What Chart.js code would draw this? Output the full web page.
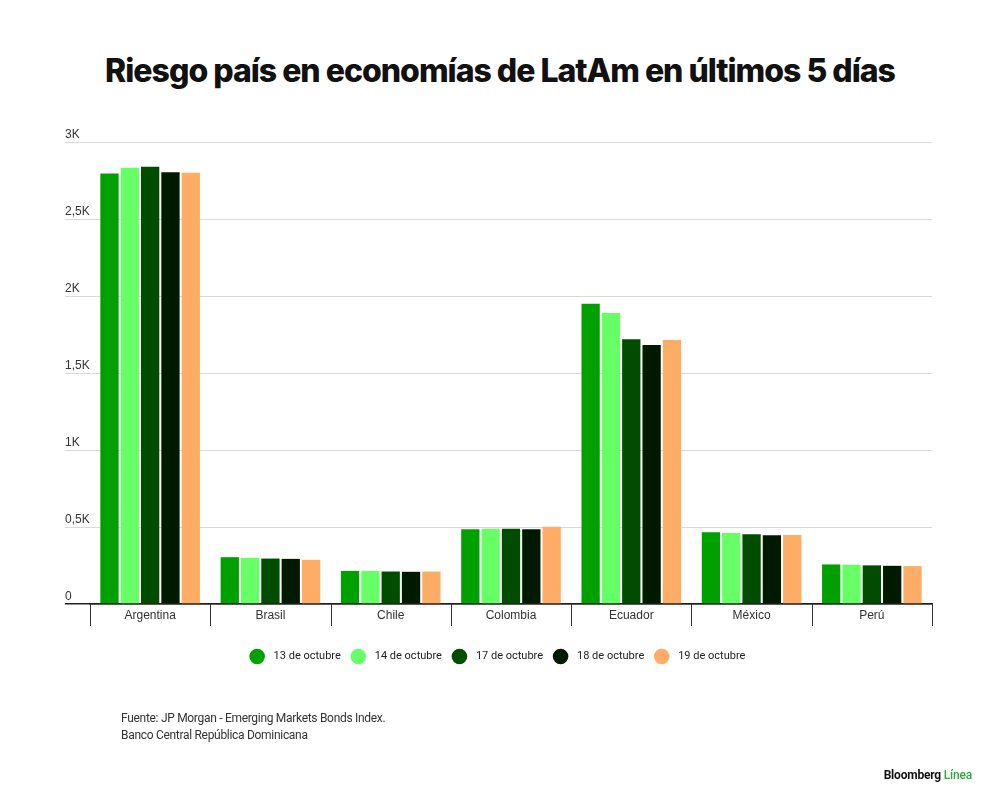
<!DOCTYPE html>
<html>
<head>
<meta charset="utf-8">
<script src="https://cdn.jsdelivr.net/npm/chart.js@4"></script>
<style>
  html, body { margin: 0; padding: 0; background: #fff; }
  body { width: 1000px; height: 804px; position: relative; overflow: hidden; font-family: Roboto, "Liberation Sans", sans-serif; }
  #title { position: absolute; left: 0; top: 51px; width: 1000px; text-align: center; font-family: Inter, Roboto, sans-serif; font-weight: 800; font-size: 32px; letter-spacing: -1px; color: #111; white-space: nowrap; }
  #wrap { position: absolute; left: 0; top: 0; width: 1000px; height: 804px; }
  #source { position: absolute; left: 121px; top: 710px; font-size: 12px; line-height: 17px; color: #333; letter-spacing: -0.3px; }
  #logo { position: absolute; right: 28px; top: 768px; font-size: 12px; font-weight: 700; color: #111; letter-spacing: -0.2px; }
  #logo span { color: #2eaa3c; font-weight: 500; }
</style>
</head>
<body>
<div id="title">Riesgo país en economías de LatAm en últimos 5 días</div>
<div id="wrap"><canvas id="c"></canvas></div>
<div id="source">Fuente: JP Morgan - Emerging Markets Bonds Index.<br>Banco Central República Dominicana</div>
<div id="logo">Bloomberg <span>Línea</span></div>
<script>
const countries = ["Argentina", "Brasil", "Chile", "Colombia", "Ecuador", "México", "Perú"];
const seriesLabels = ["13 de octubre", "14 de octubre", "17 de octubre", "18 de octubre", "19 de octubre"];
const oct13 = [2796, 304, 215, 485, 1950, 466, 257];
const oct14 = [2833, 300, 215, 489, 1889, 461, 255];
const oct17 = [2840, 295, 211, 489, 1719, 453, 251];
const oct18 = [2803, 293, 209, 486, 1682, 446, 248];
const oct19 = [2800, 287, 211, 501, 1715, 448, 246];
const yTickValues = [0, 500, 1000, 1500, 2000, 2500, 3000];
const yTickLabels = ["0", "0,5K", "1K", "1,5K", "2K", "2,5K", "3K"];

const seriesData = [oct13, oct14, oct17, oct18, oct19];
const seriesColors = ["#00a000", "#66ff66", "#004d00", "#001a00", "#ffad66"];

// category divider marks below the baseline, positioned from the x scale
const dividerPlugin = {
  id: "dividers",
  afterDraw(chart) {
    const xs = chart.scales.x;
    const ctx = chart.ctx;
    const top = chart.chartArea.bottom;
    ctx.save();
    ctx.strokeStyle = "#333";
    ctx.lineWidth = 1;
    for (let i = 0; i <= countries.length; i++) {
      const x = Math.round(xs.getPixelForValue(i - 0.5)) + 0.5;
      ctx.beginPath();
      ctx.moveTo(x, top);
      ctx.lineTo(x, top + 22);
      ctx.stroke();
    }
    ctx.restore();
  }
};

new Chart(document.getElementById("c"), {
  type: "bar",
  data: {
    labels: countries,
    datasets: seriesData.map((d, i) => ({
      label: seriesLabels[i],
      data: d,
      backgroundColor: seriesColors[i],
      borderWidth: 0,
      barPercentage: 0.9,
      categoryPercentage: 0.845
    }))
  },
  plugins: [dividerPlugin],
  options: {
    responsive: true,
    maintainAspectRatio: false,
    animation: false,
    layout: { padding: { left: 65, right: 68, top: 142, bottom: 132 } },
    plugins: {
      title: { display: false },
      tooltip: { enabled: false },
      legend: {
        position: "bottom",
        labels: {
          usePointStyle: true,
          pointStyle: "circle",
          boxHeight: 11,
          padding: 12,
          color: "#222",
          font: { family: "Roboto", size: 11 },
          generateLabels(chart) {
            const items = Chart.defaults.plugins.legend.labels.generateLabels(chart);
            items.forEach(it => { it.text = "  " + it.text; it.lineWidth = 0; });
            return items;
          }
        }
      }
    },
    scales: {
      x: {
        offset: true,
        afterFit(scale) { scale.height = 35; },
        grid: { offset: true, display: true, drawOnChartArea: false, drawTicks: false },
        border: { display: true, color: "#222", width: 1.5 },
        ticks: { padding: 4, color: "#333", autoSkip: false, maxRotation: 0, font: { family: "Liberation Sans", size: 12 } }
      },
      y: {
        min: 0,
        max: 3000,
        afterFit(scale) { scale.width = 25; },
        afterBuildTicks(scale) { scale.ticks = yTickValues.map(v => ({ value: v })); },
        grid: {
          drawTicks: true,
          tickLength: 25,
          color: ctx => (ctx.tick && ctx.tick.value === 0) ? "#222" : "#d9d9d9",
          lineWidth: ctx => (ctx.tick && ctx.tick.value === 0) ? 1.5 : 1
        },
        border: { display: false },
        ticks: {
          crossAlign: "far",
          padding: 0,
          color: "#333",
          font: { family: "Liberation Sans", size: 12, lineHeight: 1.25 },
          callback(value) {
            const idx = yTickValues.indexOf(value);
            return [idx >= 0 ? yTickLabels[idx] : "", ""];
          }
        }
      }
    }
  }
});
</script>
</body>
</html>
